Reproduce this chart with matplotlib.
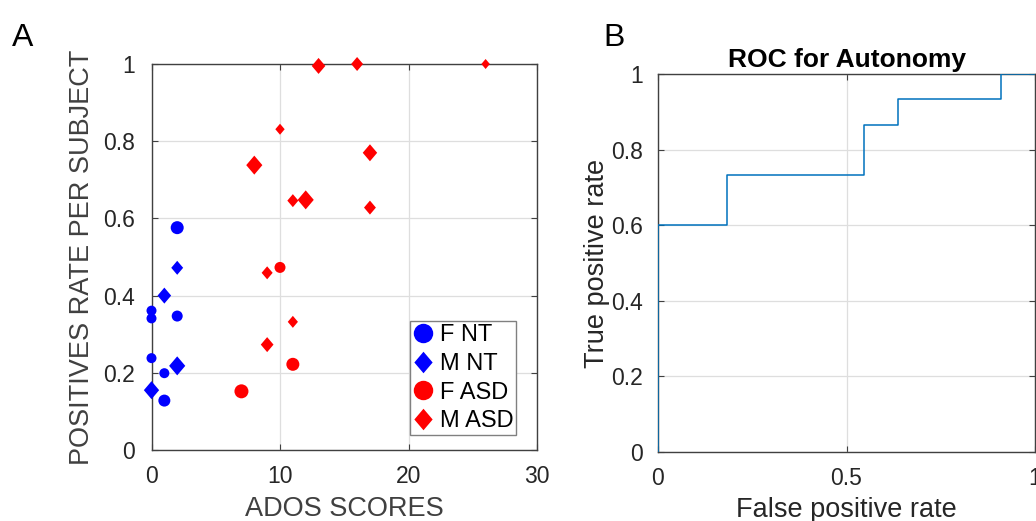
import numpy as np
import matplotlib
matplotlib.use("Agg")
import matplotlib.pyplot as plt
from matplotlib.path import Path
from matplotlib.lines import Line2D

plt.rcParams['font.family'] = ['Liberation Sans', 'DejaVu Sans']

# ---------------- data: panel A ----------------
f_nt_x = [2, 0, 0, 2, 0, 1, 1]
f_nt_y = [0.576, 0.361, 0.341, 0.347, 0.238, 0.199, 0.128]
f_nt_size = [13, 10, 10, 11, 10, 10, 12]

m_nt_x = [2, 1, 2, 0]
m_nt_y = [0.472, 0.400, 0.218, 0.155]
m_nt_size = [14, 16, 19, 18]

f_asd_x = [7, 10, 11]
f_asd_y = [0.152, 0.473, 0.222]
f_asd_size = [14, 11, 13]

m_asd_x = [9, 11, 9, 11, 12, 13, 16, 26, 10, 8, 17, 17]
m_asd_y = [0.459, 0.332, 0.273, 0.646, 0.648, 0.995, 1.0, 1.0, 0.831, 0.738, 0.770, 0.628]
m_asd_size = [13, 12, 15, 13, 19, 16, 14, 10, 11, 19, 17, 14]

legend_labels = ['F NT', 'M NT', 'F ASD', 'M ASD']

# ---------------- data: panel B ----------------
roc_fpr = [0, 0, 2/11, 2/11, 6/11, 6/11, 7/11, 7/11, 10/11, 10/11, 1]
roc_tpr = [0, 9/15, 9/15, 11/15, 11/15, 13/15, 13/15, 14/15, 14/15, 1, 1]

# ---------------- styling ----------------
W, H = 1036, 521
fig = plt.figure(figsize=(W / 100, H / 100), dpi=100)

diamond = Path([(0, 1), (0.85, 0), (0, -1), (-0.85, 0), (0, 1)],
               [Path.MOVETO, Path.LINETO, Path.LINETO, Path.LINETO, Path.CLOSEPOLY])

spine_col = '#404040'
grid_col = '#dedede'
tick_fs = 16.5
label_fs = 19.5


def style_axes(ax):
    for s in ax.spines.values():
        s.set_color(spine_col)
        s.set_linewidth(1.0)
    ax.tick_params(direction='in', length=4, width=0.8, color=spine_col,
                   top=True, right=True, labelsize=tick_fs, labelcolor='#262626')
    ax.tick_params(axis='y', pad=12)
    ax.tick_params(axis='x', pad=11)
    ax.grid(True, color=grid_col, linewidth=0.9)
    ax.set_axisbelow(True)


def sz(px):
    return (np.asarray(px) * 0.72) ** 2


# Panel A
axA = fig.add_axes([151.5 / W, 1 - 450 / H, 385.5 / W, 386 / H])
style_axes(axA)
axA.scatter(f_nt_x, f_nt_y, s=sz(f_nt_size), marker='o', color='#0000ff', edgecolors='none', zorder=3, clip_on=False)
axA.scatter(m_nt_x, m_nt_y, s=sz(m_nt_size), marker=diamond, color='#0000ff', edgecolors='none', zorder=3, clip_on=False)
axA.scatter(f_asd_x, f_asd_y, s=sz(f_asd_size), marker='o', color='#ff0000', edgecolors='none', zorder=3, clip_on=False)
axA.scatter(m_asd_x, m_asd_y, s=sz(m_asd_size), marker=diamond, color='#ff0000', edgecolors='none', zorder=3, clip_on=False)
axA.set_xlim(0, 30)
axA.set_ylim(0, 1)
axA.set_xticks([0, 10, 20, 30])
axA.set_yticks([0, 0.2, 0.4, 0.6, 0.8, 1])
axA.set_yticklabels(['0', '0.2', '0.4', '0.6', '0.8', '1'])
axA.set_xlabel('ADOS SCORES', fontsize=label_fs, color='#404040')
axA.set_ylabel('POSITIVES RATE PER SUBJECT', fontsize=label_fs, color='#404040')
axA.xaxis.set_label_coords(0.5, -0.12)
axA.yaxis.set_label_coords(-0.146, 0.5)

handles = [
    Line2D([], [], linestyle='none', marker='o', markersize=14, color='#0000ff', markeredgecolor='none'),
    Line2D([], [], linestyle='none', marker=diamond, markersize=15.5, color='#0000ff', markeredgecolor='none'),
    Line2D([], [], linestyle='none', marker='o', markersize=14, color='#ff0000', markeredgecolor='none'),
    Line2D([], [], linestyle='none', marker=diamond, markersize=15.5, color='#ff0000', markeredgecolor='none'),
]
leg = axA.legend(handles, legend_labels, loc='lower right', bbox_to_anchor=(0.9455, 0.039),
                 fontsize=17, frameon=True, fancybox=False, framealpha=1,
                 edgecolor='#808080', borderpad=0.12, labelspacing=0.28,
                 handlelength=0.9, handletextpad=0.25, borderaxespad=0)
leg.get_frame().set_linewidth(1.0)

# Panel B
axB = fig.add_axes([658 / W, 1 - 452 / H, 377 / W, 377.7 / H])
style_axes(axB)
axB.tick_params(axis='y', pad=11)
axB.plot(roc_fpr, roc_tpr, color='#0072bd', linewidth=1.1, zorder=3)
axB.set_xlim(0, 1)
axB.set_ylim(0, 1)
axB.set_xticks([0, 0.5, 1])
axB.set_xticklabels(['0', '0.5', '1'])
axB.set_yticks([0, 0.2, 0.4, 0.6, 0.8, 1])
axB.set_yticklabels(['0', '0.2', '0.4', '0.6', '0.8', '1'])
axB.set_xlabel('False positive rate', fontsize=label_fs, color='#262626')
axB.set_ylabel('True positive rate', fontsize=label_fs, color='#262626')
axB.xaxis.set_label_coords(0.5, -0.118)
axB.yaxis.set_label_coords(-0.126, 0.5)
axB.set_title('ROC for Autonomy', fontsize=19, fontweight='bold', pad=5)

fig.text(12 / W, 1 - 46 / H, 'A', fontsize=23, ha='left', va='baseline')
fig.text(603 / W, 1 - 46 / H, 'B', fontsize=23, ha='left', va='baseline')

fig.savefig('out.png', dpi=100)
